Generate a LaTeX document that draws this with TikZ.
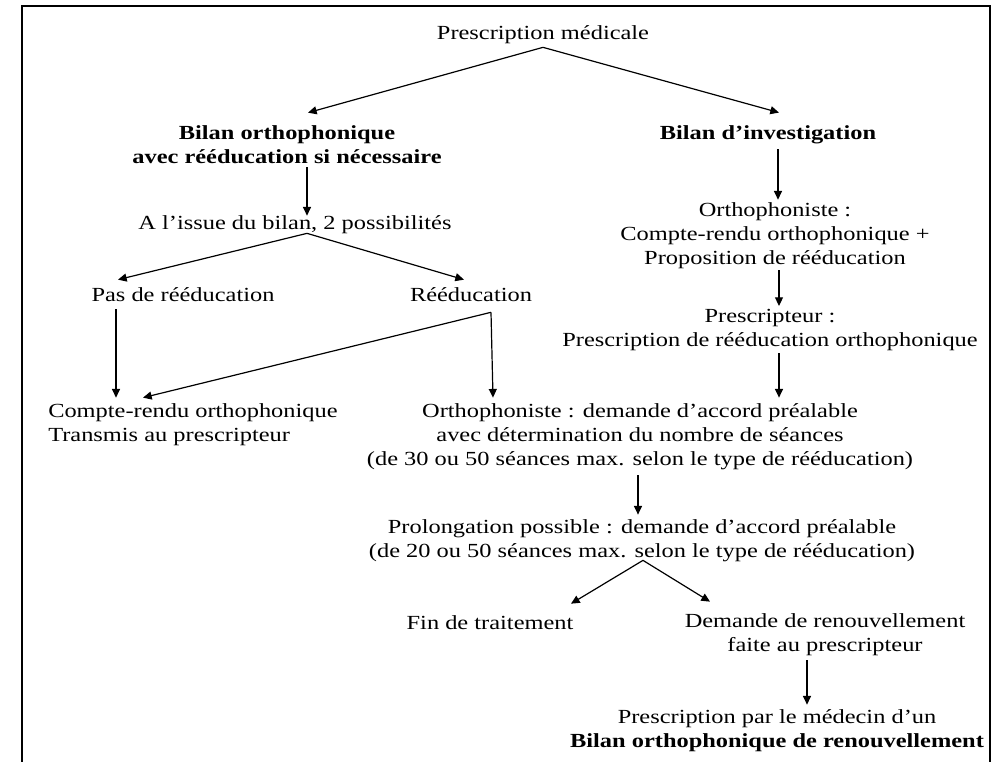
\documentclass[tikz,border=0pt]{standalone}
\usepackage{fontspec}
\setmainfont{Liberation Serif}[FakeStretch=1.22]
\usetikzlibrary{arrows.meta}

\tikzset{
  txt/.style={font=\fontsize{15pt}{18pt}\selectfont, align=center, inner sep=0pt},
  hd/.style={txt, font=\fontsize{15pt}{18pt}\selectfont\bfseries},
  arr/.style={-{Triangle[length=6.5pt,width=6pt]}, line width=0.9pt},
}

\begin{document}
\begin{tikzpicture}[x=0.75pt, y=-0.75pt]
\useasboundingbox (0,0) rectangle (996,762);

% frame, open at the bottom
\draw[line width=1.5pt] (22,762) -- (22,6) -- (990,6) -- (990,762);

% === TOP ===
\node[txt] (presc) at (543,35) {Prescription médicale};
\node[hd] (bortho) at (287,145) {Bilan orthophonique\\avec rééducation si nécessaire};
\node[hd] (binv) at (768,135) {Bilan d’investigation};

\draw[arr] ([shift={(0,3)}]presc.south) -- ([shift={(21,-13)}]bortho.north);
\draw[arr] ([shift={(0,3)}]presc.south) -- ([shift={(11,-13)}]binv.north);

% === LEFT: bilan orthophonique ===
\node[txt] (issue) at (295,225) {A l’issue du bilan, 2 possibilités};
\node[txt] (pasreed) at (183,295) {Pas de rééducation};
\node[txt] (reed) at (471,295) {Rééducation};
\node[txt, align=left, anchor=west] (crendu) at (48,425) {Compte-rendu orthophonique\\Transmis au prescripteur};
\node[txt] (ortho2) at (640,437) {Orthophoniste : demande d’accord préalable\\avec détermination du nombre de séances\\(de 30 ou 50 séances max. selon le type de rééducation)};

\draw[arr] ([shift={(20,3)}]bortho.south) -- ([shift={(12,0)}]issue.north);
\draw[arr] ([shift={(12,-1)}]issue.south) -- ([shift={(-65,-8)}]pasreed.north);
\draw[arr] ([shift={(12,-1)}]issue.south) -- ([shift={(-7,-8)}]reed.north);
\draw[arr] ([shift={(-67,7)}]pasreed.south) -- ([shift={(68,-6)}]crendu.north west);

% split under Rééducation
\coordinate (rj) at ([shift={(20,10)}]reed.south);
\draw[arr] (rj) -- ([shift={(95,-6)}]crendu.north west);
\draw[arr] (rj) -- ([shift={(-147,-6)}]ortho2.north);

% === RIGHT: bilan d'investigation ===
\node[txt] (ortho1) at (775,236) {Orthophoniste :\\Compte-rendu orthophonique +\\Proposition de rééducation};
\node[txt] (prescr) at (770,330) {Prescripteur :\\Prescription de rééducation orthophonique};

\draw[arr] ([shift={(10,5)}]binv.south) -- ([shift={(3,-3)}]ortho1.north);
\draw[arr] ([shift={(4,1)}]ortho1.south) -- ([shift={(9,-3)}]prescr.north);
\draw[arr] ([shift={(9,2)}]prescr.south) -- ([shift={(139,-6)}]ortho2.north);

% === BOTTOM ===
\node[txt] (prolong) at (642,541) {Prolongation possible : demande d’accord préalable\\(de 20 ou 50 séances max. selon le type de rééducation)};
\node[txt] (fin) at (490,623) {Fin de traitement};
\node[txt] (demande) at (825,635) {Demande de renouvellement\\faite au prescripteur};
\node[txt] (final) at (777,731) {Prescription par le médecin d’un\\\textbf{Bilan orthophonique de renouvellement}};

\draw[arr] ([shift={(-2,5)}]ortho2.south) -- ([shift={(-4,-5)}]prolong.north);
\draw[arr] ([shift={(1,-2)}]prolong.south) -- ([shift={(81,-12)}]fin.north);
\draw[arr] ([shift={(1,-2)}]prolong.south) -- ([shift={(-115,-12)}]demande.north);
\draw[arr] ([shift={(-18,4)}]demande.south) -- ([shift={(30,-5)}]final.north);

\end{tikzpicture}
\end{document}
